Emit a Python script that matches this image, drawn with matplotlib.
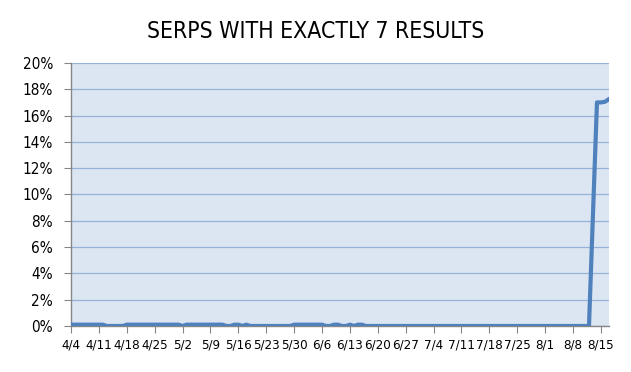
import datetime as dt
import matplotlib
matplotlib.use("Agg")
import matplotlib.pyplot as plt
import matplotlib.dates as mdates
from matplotlib.ticker import FuncFormatter, MultipleLocator

plt.rcParams['font.family'] = ['DejaVu Sans']
plt.rcParams['font.stretch'] = 'condensed'

# daily share (%) of SERPs with exactly 7 results, 4/4 .. 8/12 (one row per week)
early_vals = [
    0.1, 0.1, 0.1, 0.1, 0.1, 0.1, 0.1,   # 4/4
    0.1, 0.1, 0.0, 0.0, 0.0, 0.0, 0.0,   # 4/11
    0.1, 0.1, 0.1, 0.1, 0.1, 0.1, 0.1,   # 4/18
    0.1, 0.1, 0.1, 0.1, 0.1, 0.1, 0.1,   # 4/25
    0.0, 0.1, 0.1, 0.1, 0.1, 0.1, 0.1,   # 5/2
    0.1, 0.1, 0.1, 0.1, 0.0, 0.0, 0.1,   # 5/9
    0.1, 0.0, 0.1, 0.0, 0.0, 0.0, 0.0,   # 5/16
    0.0, 0.0, 0.0, 0.0, 0.0, 0.0, 0.0,   # 5/23
    0.1, 0.1, 0.1, 0.1, 0.1, 0.1, 0.1,   # 5/30
    0.1, 0.0, 0.0, 0.1, 0.1, 0.0, 0.0,   # 6/6
    0.1, 0.0, 0.1, 0.1, 0.0, 0.0, 0.0,   # 6/13
    0.0, 0.0, 0.0, 0.0, 0.0, 0.0, 0.0,   # 6/20
    0.0, 0.0, 0.0, 0.0, 0.0, 0.0, 0.0,   # 6/27
    0.0, 0.0, 0.0, 0.0, 0.0, 0.0, 0.0,   # 7/4
    0.0, 0.0, 0.0, 0.0, 0.0, 0.0, 0.0,   # 7/11
    0.0, 0.0, 0.0, 0.0, 0.0, 0.0, 0.0,   # 7/18
    0.0, 0.0, 0.0, 0.0, 0.0, 0.0, 0.0,   # 7/25
    0.0, 0.0, 0.0, 0.0, 0.0, 0.0, 0.0,   # 8/1
    0.0, 0.0, 0.0, 0.0, 0.0,             # 8/8 .. 8/12
]
# after the jump (no data for 8/13)
late_days = ["2013-08-14", "2013-08-15", "2013-08-16", "2013-08-17"]
late_vals = [17.0, 17.0, 17.05, 17.25]

start = dt.date(2013, 4, 4)
dates = [start + dt.timedelta(days=i) for i in range(len(early_vals))]
dates += [dt.date.fromisoformat(d) for d in late_days]
values = early_vals + late_vals

fig = plt.figure(figsize=(6.31, 3.72), dpi=100)
ax = fig.add_axes([0.1125, 0.1237, 0.8525, 0.707])
ax.set_facecolor('#DCE6F2')

ax.plot(dates, values, color='#4F81BD', linewidth=3, solid_joinstyle='round', zorder=3)

ax.set_ylim(0, 20)
ax.yaxis.set_major_locator(MultipleLocator(2))
ax.yaxis.set_major_formatter(FuncFormatter(lambda v, p: f"{v:.0f}%"))
ax.set_xlim(dates[0], dates[-1])
ax.set_xticks([start + dt.timedelta(days=7 * k) for k in range(20)])
ax.xaxis.set_major_formatter(FuncFormatter(
    lambda v, p: f"{mdates.num2date(v).month}/{mdates.num2date(v).day}"))

ax.grid(axis='y', color='#95B3D7', linewidth=0.9, zorder=1)
ax.set_axisbelow(True)
for s in ('top', 'right'):
    ax.spines[s].set_visible(False)
for s in ('left', 'bottom'):
    ax.spines[s].set_color('#868686')
    ax.spines[s].set_linewidth(1)
ax.tick_params(axis='y', direction='out', color='#868686', length=5,
               labelsize=11, labelcolor='black', pad=8)
ax.tick_params(axis='x', direction='out', color='#868686', length=5,
               labelsize=9.5, labelcolor='black', pad=4)

fig.suptitle('SERPS WITH EXACTLY 7 RESULTS', fontsize=16.5, y=0.945)

fig.savefig('out.png', dpi=100)
